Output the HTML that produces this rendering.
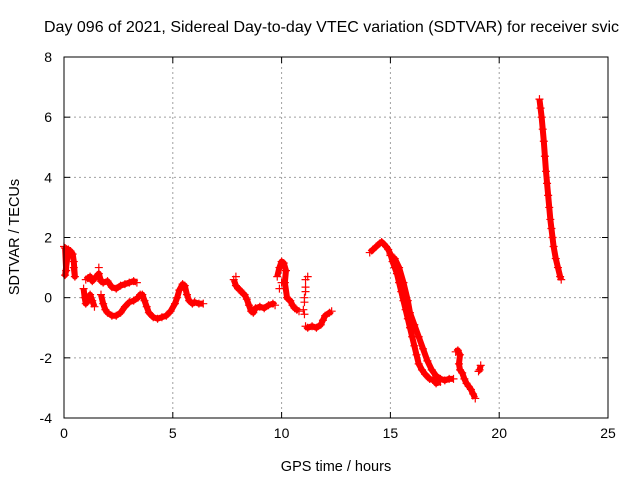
<!DOCTYPE html>
<html><head><meta charset="utf-8"><style>
body{margin:0;background:#fff}
svg text{font-family:"Liberation Sans",sans-serif;fill:#000}
</style></head><body>
<svg id="c" width="640" height="480">
<text x="44" y="32" font-size="16">Day 096 of 2021, Sidereal Day-to-day VTEC variation (SDTVAR) for receiver svic</text>
<text x="336" y="471" font-size="14.5" text-anchor="middle">GPS time / hours</text>
<text transform="translate(19,237) rotate(-90)" font-size="14.5" text-anchor="middle">SDTVAR / TECUs</text>
<g id="grid"></g><g id="marks"></g><g id="axes"></g>
</svg>
<script>
const xTicks=[0,5,10,15,20,25];
const yTicks=[-4,-2,0,2,4,6,8];
const segA=[[0,1.7],[0.05,1.65],[0.1,0.9],[0.05,0.75],[0.2,1.6],[0.3,1.55],[0.4,1.45],[0.45,1.2],[0.5,0.7],[0.45,1.0]];
const segUpper=[[1.0,0.6],[1.1,0.65],[1.2,0.7],[1.3,0.55],[1.6,0.8],[1.7,0.55],[1.8,0.5],[2.0,0.55],[2.2,0.35],[2.4,0.3],[2.6,0.4],[2.8,0.45],[3.0,0.5],[3.2,0.55],[3.35,0.5]];
const segBlob=[[0.9,0.3],[0.95,0],[1.0,-0.2],[1.1,-0.1],[1.2,0.1],[1.3,-0.1],[1.4,-0.3]];
const segLower=[[1.7,0.1],[1.8,-0.2],[1.9,-0.4],[2.0,-0.5],[2.2,-0.6],[2.4,-0.6],[2.6,-0.5],[2.8,-0.3],[3.0,-0.15],[3.2,-0.1],[3.4,0],[3.5,0.1],[3.6,0.1],[3.7,-0.1],[3.8,-0.3],[3.9,-0.5],[4.1,-0.65],[4.3,-0.7],[4.5,-0.65],[4.7,-0.6],[4.9,-0.45],[5.1,-0.2],[5.2,0.0],[5.3,0.25],[5.45,0.45],[5.55,0.4],[5.65,0.1],[5.75,-0.1],[5.9,-0.2],[6.0,-0.15],[6.2,-0.2],[6.4,-0.2]];
const seg8=[[7.8,0.6],[7.9,0.4],[8.0,0.3],[8.1,0.25],[8.2,0.15],[8.3,0.1],[8.4,-0.05],[8.5,-0.25],[8.6,-0.45],[8.7,-0.5],[8.8,-0.35],[9.0,-0.3],[9.2,-0.35],[9.4,-0.25],[9.6,-0.2],[9.7,-0.25]];
const seg10=[[9.8,0.7],[9.9,1.0],[10.0,1.2],[10.1,1.15],[10.2,0.9],[10.15,0.5],[10.25,0.0],[10.3,-0.05],[10.4,-0.1],[10.5,-0.25],[10.6,-0.35],[10.7,-0.4],[10.8,-0.45]];
const seg11=[[11.1,-0.95],[11.2,-1.0],[11.4,-0.95],[11.6,-1.0],[11.8,-0.9],[11.9,-0.75],[12.0,-0.6],[12.2,-0.5],[12.3,-0.45]];
const seg14=[[14.05,1.5],[14.2,1.6],[14.35,1.7],[14.5,1.8],[14.6,1.85],[14.7,1.78],[14.8,1.7],[14.9,1.6],[15.0,1.45],[15.1,1.2],[15.2,1.0],[15.3,0.8],[15.4,0.5],[15.5,0.2],[15.6,-0.1],[15.7,-0.4],[15.8,-0.7],[15.9,-1.0],[16.0,-1.3],[16.1,-1.6],[16.2,-1.9],[16.3,-2.2],[16.45,-2.4],[16.6,-2.55],[16.8,-2.7],[17.0,-2.75],[17.1,-2.85],[17.3,-2.8]];
const seg15b=[[15.0,1.4],[15.2,1.3],[15.4,1.0],[15.6,0.5],[15.8,-0.1],[15.9,-0.5],[16.1,-0.9],[16.3,-1.3],[16.5,-1.7],[16.7,-2.1],[16.9,-2.4],[17.1,-2.6],[17.3,-2.7],[17.5,-2.75],[17.7,-2.7],[17.9,-2.7]];
const seg18=[[18.0,-1.8],[18.1,-1.75],[18.2,-1.9],[18.15,-2.2],[18.2,-2.4],[18.3,-2.5],[18.4,-2.7],[18.5,-2.85],[18.6,-2.95],[18.7,-3.05],[18.8,-3.2],[18.9,-3.35]];
const seg19=[[19.05,-2.45],[19.1,-2.4],[19.15,-2.25]];
const seg22=[[21.85,6.6],[21.9,6.3],[21.95,6.0],[22.0,5.6],[22.05,5.2],[22.1,4.7],[22.15,4.2],[22.2,3.8],[22.25,3.4],[22.3,3.0],[22.35,2.6],[22.4,2.3],[22.45,2.0],[22.5,1.7],[22.6,1.3],[22.7,1.0],[22.8,0.7],[22.85,0.6]];
const scatter=[[1.6,1.0],[7.9,0.7],[10.0,0.5],[9.9,0.3],[11.1,0.6],[11.1,0.35],[11.05,0.0],[11.05,-0.15],[11.0,-0.4],[11.05,-0.55],[11.1,0.2],[11.2,0.7]];
const lineSegs=[segA,segUpper,segBlob,segLower,seg8,seg10,seg11,seg14,seg15b,seg18,seg19,seg22];

const X0=64,X1=608,Y0=418,Y1=57;
const sx=h=>X0+(h-0)/(25-0)*(X1-X0);
const sy=v=>Y0-(v+4)/(8+4)*(Y0-Y1);
const NS="http://www.w3.org/2000/svg";
function mk(tag,attrs,parent){const e=document.createElementNS(NS,tag);for(const k in attrs)e.setAttribute(k,attrs[k]);parent.appendChild(e);return e;}
const grid=document.getElementById('grid'),marks=document.getElementById('marks'),axes=document.getElementById('axes');
xTicks.forEach(t=>{const x=sx(t);
 if(t>0&&t<25){const g=mk('line',{x1:x,x2:x,y1:Y1,y2:Y0,stroke:'#a0a0a0','stroke-dasharray':'2,3'},grid);
 
 }
 mk('line',{x1:x,x2:x,y1:Y0,y2:Y0-6,stroke:'#000'},axes);
 mk('line',{x1:x,x2:x,y1:Y1,y2:Y1+6,stroke:'#000'},axes);
 const l=mk('text',{x:x,y:Y0+20,'font-size':'14','text-anchor':'middle'},axes);l.textContent=t;
 
 
});
yTicks.forEach(t=>{const y=sy(t);
 if(t>-4&&t<8){const g=mk('line',{x1:X0,x2:X1,y1:y,y2:y,stroke:'#a0a0a0','stroke-dasharray':'2,3'},grid);
 
 }
 mk('line',{x1:X0,x2:X0+6,y1:y,y2:y,stroke:'#000'},axes);
 mk('line',{x1:X1,x2:X1-6,y1:y,y2:y,stroke:'#000'},axes);
 const l=mk('text',{x:X0-12,y:y+5,'font-size':'14','text-anchor':'end'},axes);l.textContent=t;
 
 
});
const b=mk('rect',{x:X0,y:Y1,width:X1-X0,height:Y0-Y1,fill:'none',stroke:'#000'},axes);


function plus(p){const x=sx(p[0]),y=sy(p[1]);
 const e=mk('path',{d:`M${x-4},${y}H${x+4}M${x},${y-4}V${y+4}`,stroke:'#f00','stroke-width':'1.2',fill:'none'},marks);
 
 }
lineSegs.forEach(s=>{
 const pl=mk('polyline',{points:s.map(p=>sx(p[0])+','+sy(p[1])).join(' '),stroke:'#f00','stroke-width':'6',fill:'none','stroke-linejoin':'round'},marks);
 
 
 s.forEach(plus);
});
scatter.forEach(plus);
</script>
</body></html>
